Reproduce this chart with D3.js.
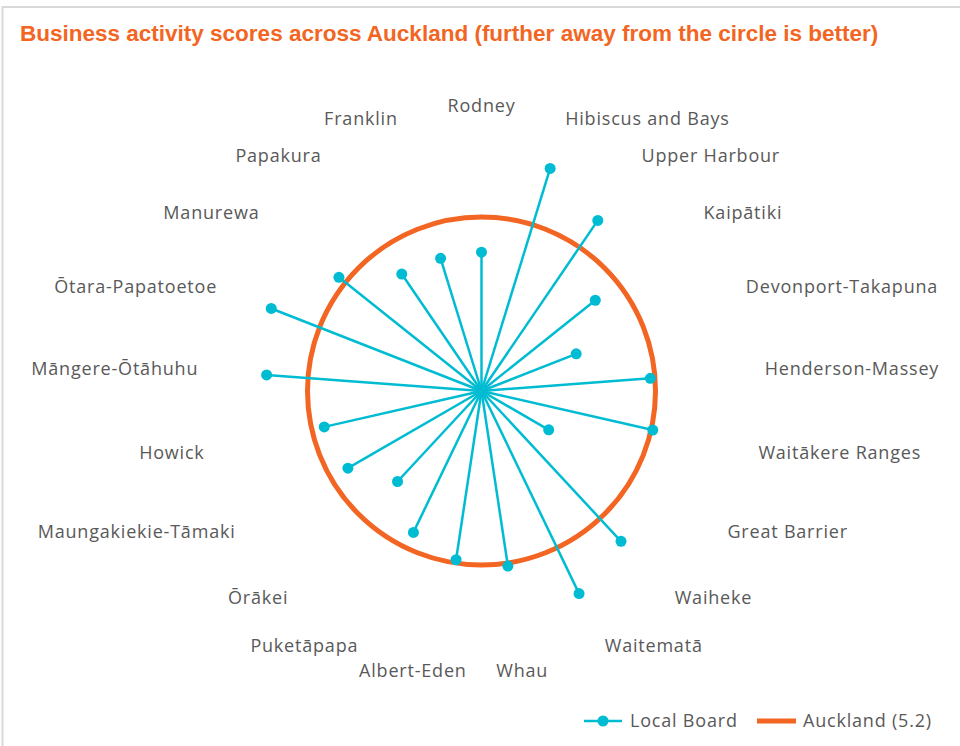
<!DOCTYPE html>
<html>
<head>
<meta charset="utf-8">
<script src="https://cdn.jsdelivr.net/npm/d3@7"></script>
<style>
  body { margin: 0; background: #fff; }
  svg { display: block; }
</style>
</head>
<body>
<div id="chart"></div>
<script>
// local boards, clockwise from the top
const boards = ["Rodney", "Hibiscus and Bays", "Upper Harbour", "Kaipātiki", "Devonport-Takapuna",
  "Henderson-Massey", "Waitākere Ranges", "Great Barrier", "Waiheke", "Waitematā", "Whau",
  "Albert-Eden", "Puketāpapa", "Ōrākei", "Maungakiekie-Tāmaki", "Howick", "Māngere-Ōtāhuhu",
  "Ōtara-Papatoetoe", "Manurewa", "Papakura", "Franklin"]
const scores = [4.15, 6.96, 6.17, 4.35, 3.04, 5.06, 5.25, 2.32, 6.13, 6.72, 5.29,
  5.1, 4.69, 3.69, 4.61, 4.82, 6.44, 6.75, 5.45, 4.23, 4.15]
const aucklandScore = 5.2
const legendLabels = ["Local Board", "Auckland (5.2)"]

const width = 960
const height = 746
const cx = 481.5
const cy = 391
const labelRadius = 284

const cyan = "#00BCD2"
const orange = "#F26522"
const grey = "#595959"
const labelFont = "'Open Sans', sans-serif"

const svg = d3.select("#chart")
    .append("svg")
    .attr("width", width)
    .attr("height", height)

// frame
svg.append("rect")
    .attr("x", 2.5)
    .attr("y", 7)
    .attr("width", width + 10)
    .attr("height", height + 10)
    .attr("fill", "none")
    .attr("stroke", "#d9d9d9")
    .attr("stroke-width", 2)

svg.append("text")
    .attr("x", 20)
    .attr("y", 41)
    .attr("fill", orange)
    .style("font-family", "'Liberation Sans Narrow', 'Liberation Sans', sans-serif")
    .style("font-weight", "bold")
    .style("font-size", "22.5px")
    .text("Business activity scores across Auckland (further away from the circle is better)")

const r = d3.scaleLinear()
    .domain([0, aucklandScore])
    .range([0, 174])

const angle = d3.scaleLinear()
    .domain([0, boards.length])
    .range([0, 2 * Math.PI])

function point(i, radius, y0 = cy) {
  const a = angle(i)
  return [cx + Math.sin(a) * radius, y0 - Math.cos(a) * radius]
}

// Auckland circle
svg.append("circle")
    .attr("cx", cx)
    .attr("cy", cy)
    .attr("r", r(aucklandScore))
    .attr("fill", "none")
    .attr("stroke", orange)
    .attr("stroke-width", 5)

// spokes
const spokes = svg.append("g")
scores.forEach((v, i) => {
  const [x, y] = point(i, r(v))
  spokes.append("line")
      .attr("x1", cx).attr("y1", cy)
      .attr("x2", x).attr("y2", y)
      .attr("stroke", cyan)
      .attr("stroke-width", 2.5)
})
scores.forEach((v, i) => {
  const [x, y] = point(i, r(v))
  spokes.append("circle")
      .attr("cx", x).attr("cy", y)
      .attr("r", 5.5)
      .attr("fill", cyan)
})

// category labels
boards.forEach((b, i) => {
  let [x, y] = point(i, labelRadius, cy - 1)
  const s = Math.sin(angle(i))
  let anchor = s > 0.2 ? "start" : (s < -0.2 ? "end" : "middle")
  // the two labels either side of the bottom sit close to the axis, facing away from each other
  if (Math.abs(s) <= 0.2 && Math.abs(s) > 0.05) {
    anchor = s > 0 ? "start" : "end"
    x = cx + (x - cx) * 0.35
  }
  svg.append("text")
      .attr("x", x)
      .attr("y", y)
      .attr("dy", "0.35em")
      .attr("text-anchor", anchor)
      .attr("fill", grey)
      .style("font-family", labelFont)
      .style("font-size", "18px")
      .style("letter-spacing", "0.8px")
      .text(b)
})

// legend
const legend = svg.append("g")
    .style("font-family", labelFont)
    .style("font-size", "18px")
    .style("letter-spacing", "0.8px")
legend.append("line")
    .attr("x1", 584).attr("x2", 622).attr("y1", 721).attr("y2", 721)
    .attr("stroke", cyan).attr("stroke-width", 2.5)
legend.append("circle")
    .attr("cx", 603).attr("cy", 721).attr("r", 5.5).attr("fill", cyan)
legend.append("text")
    .attr("x", 630).attr("y", 721).attr("dy", "0.35em")
    .attr("fill", grey).text(legendLabels[0])
legend.append("line")
    .attr("x1", 757).attr("x2", 796).attr("y1", 721).attr("y2", 721)
    .attr("stroke", orange).attr("stroke-width", 5)
legend.append("text")
    .attr("x", 803).attr("y", 721).attr("dy", "0.35em")
    .attr("fill", grey).text(legendLabels[1])
</script>
</body>
</html>
